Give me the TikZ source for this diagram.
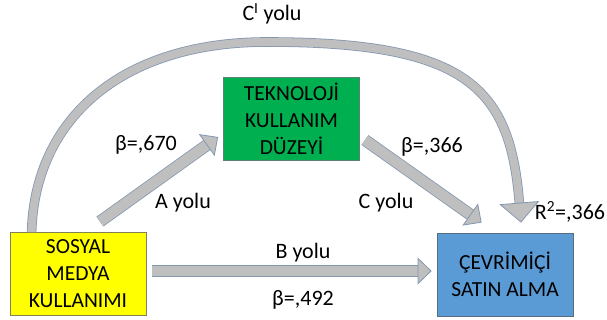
\documentclass[tikz,border=0pt]{standalone}
\usepackage{fontspec}
\setmainfont{Carlito}
\usepackage{tikz}
\usetikzlibrary{arrows.meta,calc}

\begin{document}
\begin{tikzpicture}[x=1pt,y=-1pt,
	kutu/.style={draw=#1, line width=0.8pt, minimum width=136pt, minimum height=83pt, inner sep=0pt, align=center, font=\fontsize{21.5pt}{27pt}\selectfont},
	blok/.style={draw=custcol_84_97_b0, double=custcol_bf_bf_bf, double distance=10.4pt, line width=0.8pt, -{Triangle[width=27pt,length=14pt,fill=custcol_bf_bf_bf,line width=0.8pt]}},
	etiket/.style={inner sep=0pt, font=\fontsize{22pt}{22pt}\selectfont}]
					\definecolor{custcol_ff_ff_0}{RGB}{255, 255, 0}
					\definecolor{custcol_80_80_5a}{RGB}{128, 128, 90}
					\definecolor{custcol_0_b0_50}{RGB}{0, 176, 80}
					\definecolor{custcol_5a_82_78}{RGB}{90, 130, 120}
					\definecolor{custcol_5b_9b_d5}{RGB}{91, 155, 213}
					\definecolor{custcol_5a_6e_82}{RGB}{90, 110, 130}
					\definecolor{custcol_bf_bf_bf}{RGB}{191, 191, 191}
					\definecolor{custcol_84_97_b0}{RGB}{132, 151, 176}
					\useasboundingbox (0,0) rectangle (607,320);
					% kutular
					\node[kutu=custcol_80_80_5a, fill=custcol_ff_ff_0] (sosyal) at (78.0,274.0) {SOSYAL\\MEDYA\\KULLANIMI};
					\node[kutu=custcol_5a_82_78, fill=custcol_0_b0_50] (teknoloji) at (291.5,118.5) {TEKNOLOJİ\\KULLANIM\\DÜZEYİ};
					\node[kutu=custcol_5a_6e_82, fill=custcol_5b_9b_d5] (cevrimici) at (505.0,274.5) {ÇEVRİMİÇİ\\SATIN ALMA};
					% ok uclari
					\coordinate (aBas) at ($(sosyal.north east)+(-46.5,-10.5)$);
					\coordinate (aSon) at ($(teknoloji.west)+(-5.0,18.5)$);
					\coordinate (cBas) at ($(teknoloji.east)+(5.0,21.5)$);
					\coordinate (cSon) at ($(cevrimici.north west)+(45.0,-10.0)$);
					\coordinate (bBas) at ($(sosyal.east)+(6.0,-3.0)$);
					\coordinate (bSon) at ($(cevrimici.west)+(-5.0,-3.5)$);
					\coordinate (yayBas) at ($(sosyal.north west)+(22.0,0.0)$);
					\coordinate (yayTepe) at (267.0,42.0);
					\coordinate (yaySon) at ($(cevrimici.north)+(16.0,-10.0)$);
					% oklar
					\draw [blok] (aBas) -- (aSon);
					\draw [blok] (cBas) -- (cSon);
					\draw [blok] (bBas) -- (bSon);
					\draw [blok, double distance=8.0pt, -{Triangle[width=40pt,length=20pt,fill=custcol_bf_bf_bf,line width=0.8pt]}] (yayBas) .. controls +(3.0,-112.0) and +(-147.0,0.0) .. (yayTepe) .. controls +(203.0,0.0) and +(-11.0,-133.0) .. (yaySon);
					% etiketler
					\node[etiket] (cyolu) at (272.0,14.0) {C\textsuperscript{I} yolu};
					\node[etiket] (beta670) at (146.0,145.0) {β=,670};
					\node[etiket] (ayolu) at (183.0,203.0) {A yolu};
					\node[etiket] (beta366) at (432.0,147.0) {β=,366};
					\node[etiket] (cyol) at (386.0,203.0) {C yolu};
					\node[etiket] (rkare) at (570.0,212.0) {R\textsuperscript{2}=,366};
					\node[etiket] (byolu) at (303.0,253.0) {B yolu};
					\node[etiket] (beta492) at (303.0,300.0) {β=,492};
				\end{tikzpicture}
\end{document}
